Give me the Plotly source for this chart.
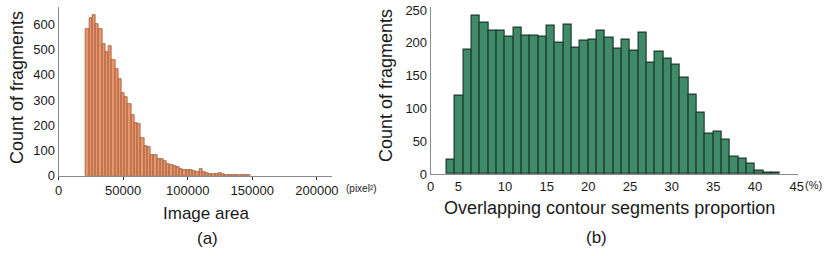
import plotly.graph_objects as go

# ---------------- data ----------------
# (a) image area histogram: bins of 2500 px^2 starting at 21250
area_bin_start = 21250
area_bin_width = 2500
area_counts = [583, 625, 636, 603, 583, 524, 491, 515, 458, 423,
               385, 326, 314, 286, 240, 209, 207, 148, 116, 112,
               83, 81, 67, 66, 57, 46, 44, 37, 34, 26,
               24, 24, 21, 17, 14, 28, 14, 9, 8, 7,
               8, 9, 7, 4, 4, 3, 2, 2, 1, 1, 1]
area_ticks = [0, 50000, 100000, 150000, 200000]

# (b) overlapping contour segment proportion: 1% bins starting at 3%
prop_bin_start = 3
prop_bin_width = 1
prop_counts = [22, 119, 190, 242, 230, 218, 218, 209, 223, 211,
               211, 209, 226, 200, 227, 192, 203, 204, 218, 208,
               191, 204, 188, 215, 169, 186, 175, 166, 147, 121,
               94, 61, 65, 53, 27, 23, 15, 5, 2.5, 2.5]
prop_tick_text = ["0", "5", "10", "15", "20", "25", "30", "35", "40", "45"]
prop_tick_vals = [1.08, 4.4, 10, 15, 20, 25, 30, 35, 40, 45]

area_x = [area_bin_start + (i + 0.5) * area_bin_width for i in range(len(area_counts))]
prop_x = [prop_bin_start + (i + 0.5) * prop_bin_width for i in range(len(prop_counts))]

W, H = 830, 256
FONT = "Liberation Sans, Arial, sans-serif"
TXT = "#1a1a1a"
AX = "#8a8a8a"

fig = go.Figure()
fig.add_trace(go.Bar(x=area_x, y=area_counts, width=area_bin_width,
                     marker=dict(color="#EA966C", line=dict(color="#8E4A2A", width=0.7)),
                     xaxis="x", yaxis="y", showlegend=False))
fig.add_trace(go.Bar(x=prop_x, y=prop_counts, width=prop_bin_width,
                     marker=dict(color="#3F8A69", line=dict(color="#1E3A2D", width=1.2)),
                     xaxis="x2", yaxis="y2", showlegend=False))

def px(x):
    return x / W

def py(y):
    return 1 - y / H

common = dict(showline=True, linecolor=AX, linewidth=1, showgrid=False,
              zeroline=False, automargin=False, fixedrange=True)

fig.update_layout(
    width=W, height=H, margin=dict(l=0, r=0, t=0, b=0, autoexpand=False),
    paper_bgcolor="white", plot_bgcolor="white",
    bargap=0,
    font=dict(family=FONT, size=13, color=TXT),
    xaxis=dict(domain=[px(58.5), px(331.7)], range=[0, 211450],
               tickvals=area_ticks, ticktext=[str(v) for v in area_ticks],
               ticks="outside", ticklen=3, tickcolor="#333", anchor="y", **common),
    yaxis=dict(domain=[py(175.7), py(7)], range=[0, 669],
               tickvals=[0, 100, 200, 300, 400, 500, 600],
               ticks="", anchor="x", **common),
    xaxis2=dict(domain=[px(430.7), px(798.3)], range=[1.08, 45.2],
                tickvals=prop_tick_vals, ticktext=prop_tick_text,
                ticks="", anchor="y2", **common),
    yaxis2=dict(domain=[py(174), py(6.7)], range=[0, 255],
                tickvals=[0, 50, 100, 150, 200, 250],
                ticks="", anchor="x2", **common),
)

def note(text, x, y, size, angle=0):
    fig.add_annotation(text=text, x=px(x), y=py(y), xref="paper", yref="paper",
                       showarrow=False, textangle=angle, xanchor="center", yanchor="middle",
                       font=dict(family=FONT, size=size, color=TXT))

note("Count of fragments", 17, 88, 18, -90)
note("Count of fragments", 386, 86, 18, -90)
note("Image area", 206, 213, 17)
note("Overlapping contour segments proportion", 609, 208, 18)
note("(a)", 207, 238, 17)
note("(b)", 596, 237, 17)
note("(pixel²)", 361, 188, 10)
note("(%)", 813, 185, 11)

fig.write_html("out.html",
               config={"displayModeBar": False},
               post_script="document.body.style.margin='0';document.body.style.overflow='hidden';")
